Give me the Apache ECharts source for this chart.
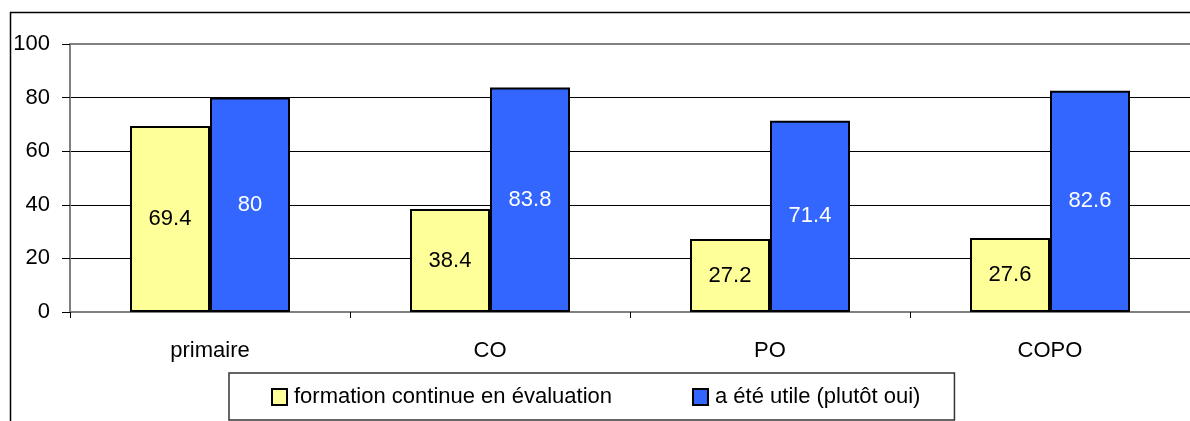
<!DOCTYPE html>
<html><head><meta charset="utf-8">
<script src="https://cdn.jsdelivr.net/npm/echarts@6/dist/echarts.min.js"></script>
<style>html,body{margin:0;padding:0;background:#fff}#c{width:1190px;height:421px}</style>
</head><body><div id="c"></div>
<script>
const categories = ['primaire', 'CO', 'PO', 'COPO'];
const seriesNames = ['formation continue en évaluation', 'a été utile (plutôt oui)'];
const formationValues = [69.4, 38.4, 27.2, 27.6];
const utileValues = [80, 83.8, 71.4, 82.6];
const yTicks = [0, 20, 40, 60, 80, 100];

const FONT = '"Liberation Sans", Arial, sans-serif';
const FS = 22;
const chart = echarts.init(document.getElementById('c'), null, {renderer: 'canvas'});
chart.setOption({
  animation: false,
  backgroundColor: '#fff',
  textStyle: {fontFamily: FONT},
  graphic: [{
    type: 'rect', z: -1,
    shape: {x: 10.5, y: 12.5, width: 1200, height: 420},
    style: {fill: 'none', stroke: '#000', lineWidth: 1.5}
  }],
  grid: {left: 70, right: -2, top: 44, bottom: 109, containLabel: false},
  legend: {
    left: 229, top: 373,
    padding: [13, 34, 12, 42],
    itemGap: 80,
    itemWidth: 15, itemHeight: 16,
    borderColor: '#333', borderWidth: 1.5, backgroundColor: '#fff',
    textStyle: {fontSize: FS, color: '#000', fontFamily: FONT, padding: [0, 0, 0, 2]},
    icon: 'rect',
    data: seriesNames
  },
  xAxis: {
    type: 'category', data: categories,
    axisLine: {show: true, lineStyle: {color: '#808080', width: 2}},
    axisTick: {show: true, length: 6, lineStyle: {color: '#000'}},
    axisLabel: {fontSize: FS, color: '#000', margin: 28, fontFamily: FONT},
    splitLine: {show: false}
  },
  yAxis: {
    type: 'value', min: 0, max: 100, interval: 20,
    axisLine: {show: true, lineStyle: {color: '#808080', width: 2}},
    axisTick: {show: true, length: 8, lineStyle: {color: '#000'}},
    axisLabel: {fontSize: FS, color: '#000', margin: 20, fontFamily: FONT,
      formatter: v => yTicks.includes(v) ? String(v) : ''},
    splitLine: {show: true, lineStyle: {color: '#000', width: 1}}
  },
  series: [
    {
      name: seriesNames[0], type: 'bar', data: formationValues,
      barWidth: 80, barGap: '0%',
      itemStyle: {color: '#FFFF99', borderColor: '#000', borderWidth: 2},
      label: {show: true, position: 'inside', fontSize: FS, color: '#000', fontFamily: FONT},
      markLine: {
        silent: true, symbol: 'none', label: {show: false},
        lineStyle: {color: '#808080', width: 2, type: 'solid'},
        data: [{yAxis: 100}]
      }
    },
    {
      name: seriesNames[1], type: 'bar', data: utileValues,
      barWidth: 80,
      itemStyle: {color: '#3366FF', borderColor: '#000', borderWidth: 2},
      label: {show: true, position: 'inside', fontSize: FS, color: '#fff', fontFamily: FONT}
    }
  ]
});
</script></body></html>
